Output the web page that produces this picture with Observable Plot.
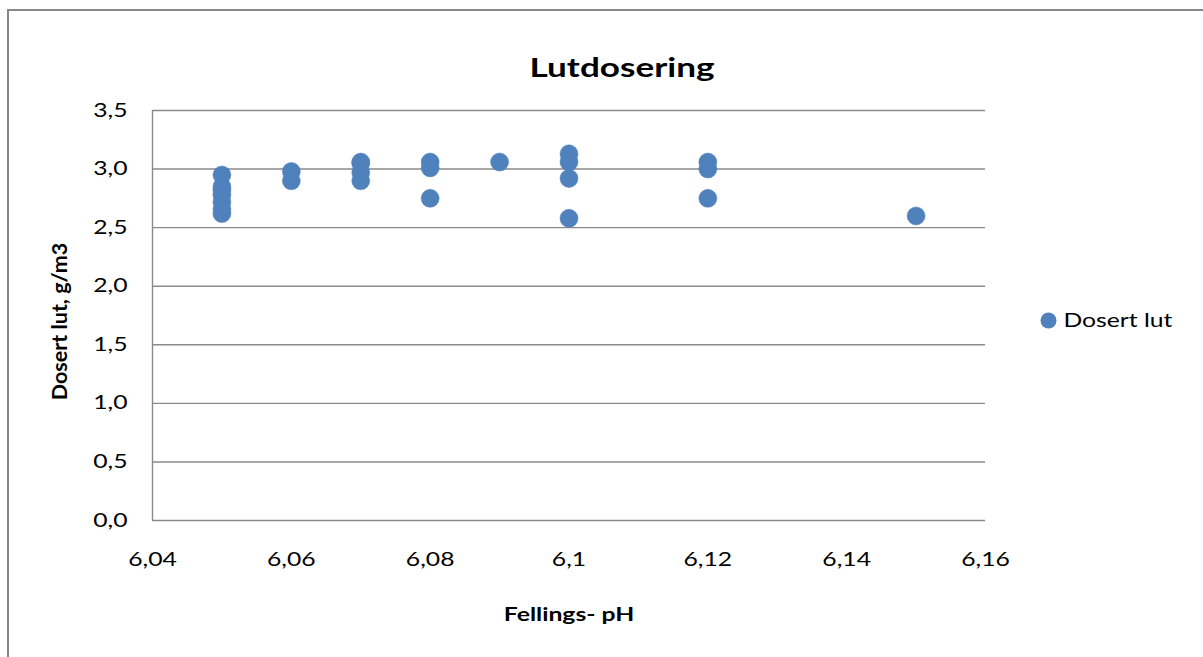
<!DOCTYPE html>
<html>
<head>
<meta charset="utf-8">
<script src="https://cdn.jsdelivr.net/npm/d3@7"></script>
<script src="https://cdn.jsdelivr.net/npm/@observablehq/plot@0.6"></script>
<style>
  html, body { margin: 0; padding: 0; background: #fff; overflow: hidden; }
  #wrap { position: relative; width: 1203px; height: 657px; overflow: hidden; }
  #border { position: absolute; left: 7px; top: 9px; width: 1400px; height: 900px;
            border: 2px solid #878787; box-sizing: border-box; }
  #chart { position: absolute; left: 0; top: 0; }
  svg { font-family: Lato, "Open Sans", sans-serif; }
</style>
</head>
<body>
<div id="wrap">
  <div id="border"></div>
  <div id="chart"></div>
</div>
<script>
// Fellings-pH readings and the dosed lye (g/m3) at each
const ph = [
  6.05, 6.05, 6.05, 6.05, 6.05, 6.05, 6.05,
  6.06, 6.06,
  6.07, 6.07, 6.07, 6.07,
  6.08, 6.08, 6.08,
  6.09,
  6.10, 6.10, 6.10, 6.10,
  6.12, 6.12, 6.12,
  6.15
];
const dosertLut = [
  2.95, 2.85, 2.82, 2.78, 2.72, 2.66, 2.62,
  2.98, 2.90,
  3.06, 3.05, 2.97, 2.90,
  3.06, 3.01, 2.75,
  3.06,
  3.13, 3.06, 2.92, 2.58,
  3.06, 3.00, 2.75,
  2.60
];
const seriesName = "Dosert lut";
const chartTitle = "Lutdosering";
const xTitle = "Fellings- pH";
const yTitle = "Dosert lut, g/m3";

const xTicks = [6.04, 6.06, 6.08, 6.10, 6.12, 6.14, 6.16];
const xTickLabels = ["6,04", "6,06", "6,08", "6,1", "6,12", "6,14", "6,16"];
const yTicks = [0, 0.5, 1.0, 1.5, 2.0, 2.5, 3.0, 3.5];
const yTickLabels = ["0,0", "0,5", "1,0", "1,5", "2,0", "2,5", "3,0", "3,5"];

const points = ph.map((x, i) => ({ph: x, lut: dosertLut[i]}));
const blue = "#4f81bd";
const gridGray = "#8a8a8a";

const chart = Plot.plot({
  width: 1203,
  height: 657,
  marginLeft: 152,
  marginRight: 218,
  marginTop: 110,
  marginBottom: 137,
  style: {fontFamily: "Lato, 'Open Sans', sans-serif", background: "transparent"},
  x: {domain: [6.04, 6.16]},
  y: {domain: [0, 3.5]},
  marks: [
    Plot.ruleY(yTicks, {stroke: gridGray, strokeWidth: 1.4}),
    Plot.ruleX([6.04], {y1: 0, y2: 3.5, stroke: gridGray, strokeWidth: 1.4}),
    Plot.axisY({
      ticks: yTicks,
      tickSize: 0,
      tickPadding: 25,
      tickFormat: (d) => yTickLabels[yTicks.indexOf(d)],
      fontSize: 19,
      fill: "#000",
      label: null
    }),
    Plot.axisX({
      ticks: xTicks,
      tickSize: 0,
      tickPadding: 32,
      tickFormat: (d) => xTickLabels[xTicks.findIndex((t) => Math.abs(t - d) < 1e-9)],
      fontSize: 19,
      fill: "#000",
      label: null
    }),
    Plot.dot(points, {x: "ph", y: "lut", r: 9, fill: blue, stroke: blue, strokeWidth: 0.5}),
    // chart title
    Plot.text([chartTitle], {frameAnchor: "top", lineAnchor: "middle", dx: 53, dy: -42, fontSize: 27, fontWeight: "bold", fill: "#000"}),
    // axis titles
    Plot.text([xTitle], {frameAnchor: "bottom", lineAnchor: "middle", dy: 94, fontSize: 19, fontWeight: "bold", fill: "#000"}),
    Plot.text([yTitle], {frameAnchor: "left", textAnchor: "middle", lineAnchor: "middle", dx: -92, dy: 6, rotate: -90, fontSize: 21.5, fontWeight: "bold", fill: "#000"}),
    // legend
    Plot.dot([seriesName], {frameAnchor: "right", dx: 63, dy: 5, r: 8, fill: blue}),
    Plot.text([seriesName], {frameAnchor: "right", dx: 78, dy: 5, textAnchor: "start", fontSize: 19, fill: "#000"})
  ]
});
document.getElementById("chart").appendChild(chart);

// Widen the horizontal labels a little so they read like the wide office-style face
const widen = 1.3;
chart.querySelectorAll("text").forEach((t) => {
  const tr = t.getAttribute("transform") || "";
  if (tr.includes("rotate")) return;
  const len = t.getComputedTextLength();
  if (len > 0) {
    t.setAttribute("textLength", (len * widen).toFixed(1));
    t.setAttribute("lengthAdjust", "spacingAndGlyphs");
  }
});
</script>
</body>
</html>
